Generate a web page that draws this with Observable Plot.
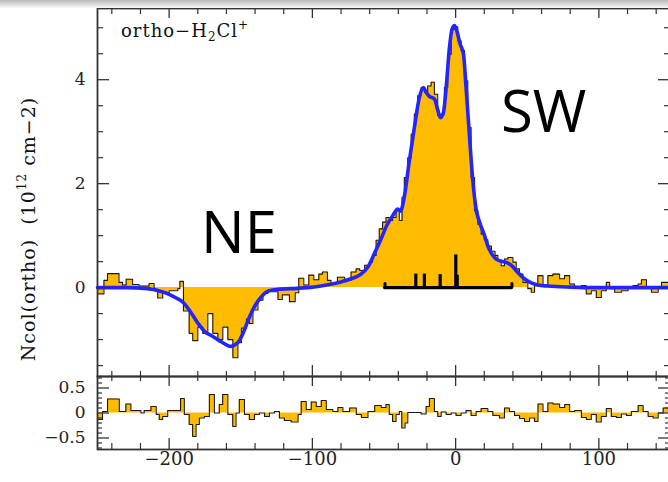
<!DOCTYPE html>
<html><head><meta charset="utf-8">
<script src="https://cdn.jsdelivr.net/npm/d3@7"></script>
<script src="https://cdn.jsdelivr.net/npm/@observablehq/plot@0.6"></script>
<style>
html,body{margin:0;padding:0;background:#fff;overflow:hidden;width:668px;height:482px;}
#wrap{position:relative;width:668px;height:482px;overflow:hidden;}
#shade{position:absolute;left:0;top:0;width:668px;height:8px;background:linear-gradient(#b8b8b8,#dcdcdc 55%,#fafafa);z-index:2}
#chart svg{display:block;max-width:none!important}
</style></head><body><div id="wrap"><div id="shade"></div><div id="chart"></div></div>
<script>
// ---- observed spectrum (step start velocity, km/s ; Ncol 1e12 cm-2)
const specV = [-250,-245.5,-243,-235,-232.5,-230,-225.5,-221,-214,-210.5,
 -208,-204.5,-200,-194,-192.5,-190,-186,-183.5,-180,-176.5,
 -173,-169.5,-166,-162.5,-159,-155.5,-152,-149.5,-146,-144,
 -141.5,-138,-134.5,-131,-128.5,-124,-121,-116,-112,-109.5,
 -106,-102.5,-99,-95.5,-93,-89.5,-87,-82.5,-77.5,-73,
 -69.5,-67,-63.5,-60,-58,-55.5,-53.3,-51,-48.6,-46.3,
 -44,-41.6,-39.3,-37.4,-35.8,-33.4,-31,-28.8,-26.5,-24.1,
 -21.8,-19.5,-17.1,-14.8,-12.5,-10.1,-7.8,-5.5,-3.1,-0.8,
 1.5,3.8,6.2,8.5,10.8,13.2,15.5,17.8,20,22.5,
 25,27.5,29.5,31.8,34.1,36.5,40,42.3,44.6,47,
 50.4,52.8,55.1,57.4,61,64.4,67.9,72.6,76,79.6,
 83,87.7,91.2,94.7,98.2,101.7,105.2,107.5,111,115.7,
 120.4,123.9,127.4,129.7,133.2,136.7,141.4,143.7];
const specN = [-0.12,0.14,0.27,0.1,0.05,0.16,0.06,0.03,0.08,-0.05,
 -0.2,-0.1,-0.06,-0.02,0.12,-0.45,-0.88,-1.02,-0.76,-0.88,
 -0.5,-0.88,-1.0,-0.76,-1.0,-1.35,-1.06,-0.78,-0.6,-0.69,
 -0.43,-0.24,-0.11,-0.04,-0.08,-0.23,-0.14,-0.27,-0.1,0.18,
 0.05,0.24,0.15,0.26,0.3,0.14,0.08,0.2,0.14,0.3,
 0.36,0.33,0.43,0.49,0.62,0.91,1.13,1.26,1.35,1.29,
 1.35,1.48,1.29,1.74,2.12,2.5,2.95,3.34,3.69,3.85,
 3.76,3.88,3.95,3.72,3.31,3.34,3.85,4.49,4.97,5.02,
 4.75,4.56,3.98,3.08,2.12,1.48,1.22,1.03,0.92,0.8,
 0.7,0.62,0.52,0.42,0.55,0.58,0.49,0.36,0.26,0.1,
 -0.02,-0.09,0.07,0.23,0.04,0.23,0.26,0.17,0.23,0.07,
 0.01,0.04,-0.12,-0.06,-0.19,-0.06,0.1,-0.02,-0.09,-0.06,
 0.01,0.04,0.07,0.15,0.01,-0.09,0.01,0.1];

// ---- model fit (blue)
const fitV = [-250,-230,-215,-205,-200,-195,-190,-185,-180,-175,
 -170,-165,-160,-157,-154,-151,-148,-145,-142,-139,
 -136,-133,-130,-126,-115,-103,-92,-80,-73,-66,
 -61.4,-56.8,-52,-48,-44,-40.4,-38.5,-36,-32.3,-28.8,
 -25.3,-22.5,-20.6,-18.3,-14.8,-12.5,-10.6,-8.5,-6.6,-4.3,
 -2.5,-0.8,0.8,3.1,5.5,7.3,9.7,12,14.3,16.7,
 20.2,22.5,25,28.3,31.8,36.5,40,43.4,48,52.8,
 57.4,64.4,80,100,150];
const fitN = [0,0,-0.02,-0.08,-0.13,-0.2,-0.29,-0.47,-0.68,-0.85,
 -0.93,-1.02,-1.1,-1.13,-1.1,-1.02,-0.85,-0.64,-0.45,-0.3,
 -0.19,-0.1,-0.06,-0.04,-0.02,0,0.04,0.11,0.17,0.26,
 0.39,0.65,0.94,1.2,1.38,1.51,1.47,1.72,2.44,3.08,
 3.66,3.85,3.76,3.68,3.63,3.42,3.27,3.37,3.85,4.62,
 4.97,5.04,4.94,4.69,4.49,3.85,2.9,2.06,1.51,1.26,
 1.0,0.8,0.66,0.55,0.51,0.47,0.40,0.29,0.17,0.09,
 0.05,0.03,0.01,0,0];

// ---- residuals (lower panel)
const resV = [-250,-246.5,-243,-234.8,-230.2,-226.7,-219.7,-217.4,-212.7,-209,
 -206.9,-204.5,-201,-192,-189.4,-186,-183.6,-181.2,-178.9,-175.4,
 -171.9,-168.4,-165,-162.6,-159,-155.6,-153.3,-151,-147.4,-144,
 -140.4,-137,-133.4,-130,-126.5,-123,-119.5,-114.8,-110,-107.8,
 -104.3,-100.8,-97.3,-93.8,-90.3,-85.7,-82.2,-78.7,-74,-69.3,
 -65.8,-61.2,-56.5,-51.9,-48.6,-46.3,-44,-41.6,-39.3,-37.6,
 -35.3,-33.4,-24.1,-20.6,-18.3,-14.8,-12.5,-10.1,-6.6,-3.1,
 0.3,3.8,7.3,10.8,14.3,17.8,22.5,26,30.6,34.1,
 37.6,41.1,44.6,48.1,51.6,55.1,57.5,61,64.4,68,
 72.6,76.1,79.6,83.1,87.8,91.3,94.7,98.2,101.7,105.2,
 108.7,112.2,115.7,119.2,122.7,127.4,130.9,134.4,137.9,141.4,
 144.9];
const resN = [-0.13,0.03,0.28,0.03,0.18,0.05,0,0.05,0.13,-0.03,
 -0.13,-0.07,0.05,0.29,-0.03,-0.23,-0.47,-0.23,-0.1,-0.07,
 0.37,0,0.17,0.37,-0.03,-0.27,0,0.27,-0.03,-0.13,
 -0.03,0,-0.07,0,0.03,-0.1,-0.15,-0.18,-0.03,0.23,
 0.07,0.22,0.13,0.25,0.07,0.03,0.11,0.03,0.1,-0.03,
 -0.09,0.03,0.15,0.11,0.17,-0.03,-0.17,-0.03,0.03,-0.3,
 -0.2,0.01,-0.02,0.13,0.29,0.03,-0.07,0.02,-0.03,0,
 -0.05,0,0.05,-0.05,0.03,0.09,0.03,-0.05,-0.1,0.1,
 0.03,-0.05,-0.11,-0.17,-0.1,-0.17,0.18,0.03,0.2,0.18,
 0.11,0.17,0.03,0.05,-0.09,-0.13,-0.03,-0.18,-0.07,0.09,
 -0.07,-0.09,-0.02,-0.05,0.03,0.15,0.03,-0.07,-0.1,0,
 0.1];

// ---- hyperfine components (black sticks)
const hfsV = [-27.8,-21.8,-10.8,0.1,1.1];
const hfsH = [0.26,0.26,0.25,0.63,0.24];
const hfsSpan = [-49.3,39.3];

// ---- axes
const xDomain = [-250,150];
const xTicks = [-200,-100,0,100];
const yMainTicks = [0,2,4];
const yResTicks = [-0.5,0,0.5];
const labels = {title:"ortho−H", sub:"2", title2:"Cl", sup:"+", ylab1:"Ncol(ortho)  (10", ylabSup:"12", ylab2:" cm−2)", ne:"NE", sw:"SW"};

const endV = 150;
const spec = specV.map((v,i)=>({v, n:specN[i]})); spec.push({v:endV, n:specN[specN.length-1]});
const fit = fitV.map((v,i)=>({v, n:fitN[i]}));
const res = resV.map((v,i)=>({v, n:resN[i]})); res.push({v:endV, n:resN[resN.length-1]});
const hfs = hfsV.map((v,i)=>({v, h:hfsH[i]}));

const minus = d => d < 0 ? "\u2212" + Math.abs(d) : String(d);
const W = 670, ML = 97, innerW = W - ML;
const ORANGE = "#ffbb00", BLUE = "#2424ff", INK = "#333";
const xMinor = d3.range(-240,150,20).filter(d => d % 100 !== 0);

// main panel
const mainH = 376, mainTop = 8, mainInner = mainH - mainTop;
const mainMinor = d3.range(-1.5,5.01,0.5).filter(d => !yMainTicks.includes(d));
const main = Plot.plot({
  width: W, height: mainH, marginTop: mainTop, marginBottom: 0, marginLeft: ML, marginRight: 0,
  x: {domain: xDomain, axis: null, label: null},
  y: {domain: [-1.71,5.37], axis: null, label: null},
  style: {fontFamily: "DejaVu Serif", fontSize: "16px", color: "#222", background: "transparent", overflow: "visible"},
  marks: [
    Plot.areaY(spec, {x:"v", y:"n", curve:"step-after", fill:ORANGE}),
    Plot.line(spec, {x:"v", y:"n", curve:"step-after", stroke:"#1a1a1a", strokeWidth:1.1}),
    Plot.ruleY([0], {x1: hfsSpan[0], x2: hfsSpan[1], stroke:"#000", strokeWidth:3.2, strokeLinecap:"round"}),
    Plot.ruleX(hfsSpan, {x: d=>d, y1: 0, y2: 0.07, stroke:"#000", strokeWidth:3, strokeLinecap:"round"}),
    Plot.ruleX(hfs, {x:"v", y1: 0, y2:"h", stroke:"#000", strokeWidth:3.2}),
    Plot.line(fit, {x:"v", y:"n", curve:"monotone-x", stroke:BLUE, strokeWidth:3.6}),
    Plot.tickX(xTicks, {x:d=>d, insetBottom: mainInner-10, stroke:INK, strokeWidth:1.3}),
    Plot.tickX(xMinor, {x:d=>d, insetBottom: mainInner-6, stroke:INK, strokeWidth:1.2}),
    Plot.tickX(xTicks, {x:d=>d, insetTop: mainInner-11, stroke:INK, strokeWidth:1.3}),
    Plot.tickX(xMinor, {x:d=>d, insetTop: mainInner-5, stroke:INK, strokeWidth:1.2}),
    Plot.tickY(yMainTicks, {y:d=>d, insetRight: innerW-12, stroke:INK, strokeWidth:1.3}),
    Plot.tickY(mainMinor, {y:d=>d, insetRight: innerW-6, stroke:INK, strokeWidth:1.2}),
    Plot.tickY(yMainTicks, {y:d=>d, insetLeft: innerW-12, stroke:INK, strokeWidth:1.3}),
    Plot.tickY(mainMinor, {y:d=>d, insetLeft: innerW-6, stroke:INK, strokeWidth:1.2}),
    Plot.axisY(yMainTicks, {tickSize:0, tickPadding:12, tickFormat:minus, label:null, fontSize:17}),
    Plot.text([{v:-151.2, y:1.03, t:labels.ne}], {x:"v", y:"y", text:"t", fontFamily:"Open Sans", fontSize:58, fill:"#000", lineAnchor:"middle"}),
    Plot.text([{v:61.5, y:3.36, t:labels.sw}], {x:"v", y:"y", text:"t", fontFamily:"Open Sans", fontSize:58, fill:"#000", lineAnchor:"middle"}),
    Plot.frame({stroke:INK, strokeWidth:1.8})
  ]
});

// residual panel
const resH = 106, resBottom = 33, resInner = resH - resBottom;
const resMinor = d3.range(-7,8,1).map(d=>d/10).filter(d => !yResTicks.includes(d));
const resid = Plot.plot({
  width: W, height: resH, marginTop: 0, marginBottom: resBottom, marginLeft: ML, marginRight: 0,
  x: {domain: xDomain, axis: null, label: null},
  y: {domain: [-0.73,0.73], axis: null, label: null},
  style: {fontFamily: "DejaVu Serif", fontSize: "16px", color: "#222", background: "transparent", overflow: "visible"},
  marks: [
    Plot.areaY(res, {x:"v", y:"n", curve:"step-after", fill:ORANGE}),
    Plot.line(res, {x:"v", y:"n", curve:"step-after", stroke:"#1a1a1a", strokeWidth:1.1}),
    Plot.tickX(xTicks, {x:d=>d, insetBottom: resInner-10, stroke:INK, strokeWidth:1.3}),
    Plot.tickX(xMinor, {x:d=>d, insetBottom: resInner-5, stroke:INK, strokeWidth:1.2}),
    Plot.tickX(xTicks, {x:d=>d, insetTop: resInner-11, stroke:INK, strokeWidth:1.3}),
    Plot.tickX(xMinor, {x:d=>d, insetTop: resInner-6, stroke:INK, strokeWidth:1.2}),
    Plot.tickY(yResTicks, {y:d=>d, insetRight: innerW-12, stroke:INK, strokeWidth:1.3}),
    Plot.tickY(resMinor, {y:d=>d, insetRight: innerW-5, stroke:INK, strokeWidth:1.2}),
    Plot.tickY(yResTicks, {y:d=>d, insetLeft: innerW-12, stroke:INK, strokeWidth:1.3}),
    Plot.tickY(resMinor, {y:d=>d, insetLeft: innerW-5, stroke:INK, strokeWidth:1.2}),
    Plot.axisY(yResTicks, {tickSize:0, tickPadding:12, tickFormat:minus, label:null, fontSize:17}),
    Plot.axisX(xTicks, {tickSize:0, tickPadding:3, tickFormat:minus, label:null, fontSize:18}),
    Plot.frame({stroke:INK, strokeWidth:1.8})
  ]
});

// title and y label as real SVG text
const ms = d3.select(main);
const t = ms.append("text").attr("x",121).attr("y",37).attr("text-anchor","start")
  .attr("font-family","DejaVu Serif").attr("font-size",18).attr("letter-spacing",1).attr("fill","#111");
t.append("tspan").text(labels.title);
t.append("tspan").attr("font-size",12).attr("dy",4).text(labels.sub);
t.append("tspan").attr("dy",-4).text(labels.title2);
t.append("tspan").attr("font-size",12).attr("dy",-8).text(labels.sup);
const yl = ms.append("text").attr("transform","translate(35,229) rotate(-90)").attr("text-anchor","middle")
  .attr("font-family","DejaVu Serif").attr("font-size",19).attr("letter-spacing",1).attr("fill","#111").attr("xml:space","preserve");
yl.append("tspan").text(labels.ylab1);
yl.append("tspan").attr("font-size",12).attr("dy",-9).text(labels.ylabSup);
yl.append("tspan").attr("dy",9).text(labels.ylab2);

document.getElementById("chart").append(main, resid);
</script></body></html>
